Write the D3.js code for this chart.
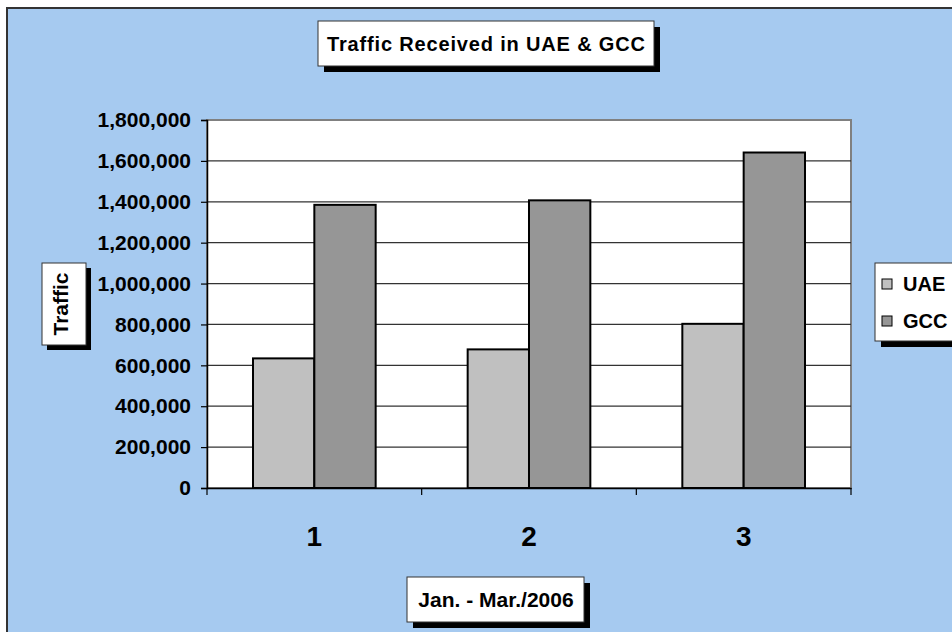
<!DOCTYPE html>
<html>
<head>
<meta charset="utf-8">
<script src="https://cdn.jsdelivr.net/npm/d3@7"></script>
<style>
  body { margin: 0; background: #fff; }
  svg { display: block; font-family: 'Liberation Sans', Arial, sans-serif; font-weight: bold; }
</style>
</head>
<body>
<div id="chart"></div>
<script>
// Chart data
const categories = ['1', '2', '3'];
const seriesNames = ['UAE', 'GCC'];
const uaeValues = [634000, 678000, 803000];
const gccValues = [1385000, 1407000, 1641000];
const yTicks = [0, 200000, 400000, 600000, 800000, 1000000, 1200000, 1400000, 1600000, 1800000];
const seriesColors = ['#c0c0c0', '#969696'];

const width = 952;
const height = 632;
const plot = { left: 207, right: 851, top: 120, bottom: 488 };

const svg = d3.select('#chart').append('svg')
  .attr('width', width)
  .attr('height', height);

// Outer chart area
svg.append('rect')
  .attr('x', 7).attr('y', 8)
  .attr('width', width + 10).attr('height', height + 10)
  .attr('fill', '#a6caf0')
  .attr('stroke', '#333')
  .attr('stroke-width', 2);

// Plot area
svg.append('rect')
  .attr('x', plot.left).attr('y', plot.top)
  .attr('width', plot.right - plot.left).attr('height', plot.bottom - plot.top)
  .attr('fill', '#fff')
  .attr('stroke', '#808080')
  .attr('stroke-width', 2);

const x0 = d3.scaleBand()
  .domain(categories)
  .range([plot.left, plot.right])
  .padding(0);

const x1 = d3.scaleBand()
  .domain(seriesNames)
  .range([0, x0.bandwidth()])
  .paddingInner(0)
  .paddingOuter(0.75);

const y = d3.scaleLinear()
  .domain([0, 1800000])
  .range([plot.bottom, plot.top]);

// Gridlines
svg.append('g')
  .selectAll('line')
  .data(yTicks.slice(1, -1))
  .join('line')
  .attr('x1', plot.left).attr('x2', plot.right)
  .attr('y1', d => y(d)).attr('y2', d => y(d))
  .attr('stroke', '#333')
  .attr('stroke-width', 1.2);

// Bars
const rows = categories.map((c, i) => ({ cat: c, values: [uaeValues[i], gccValues[i]] }));

svg.append('g')
  .selectAll('g')
  .data(rows)
  .join('g')
  .attr('transform', d => `translate(${x0(d.cat)},0)`)
  .selectAll('rect')
  .data(d => d.values.map((v, j) => ({ name: seriesNames[j], value: v, color: seriesColors[j] })))
  .join('rect')
  .attr('x', d => x1(d.name))
  .attr('y', d => y(d.value))
  .attr('width', x1.bandwidth())
  .attr('height', d => y(0) - y(d.value))
  .attr('fill', d => d.color)
  .attr('stroke', '#000')
  .attr('stroke-width', 2);

// Y axis
const yAxis = svg.append('g')
  .attr('transform', `translate(${plot.left},0)`)
  .call(d3.axisLeft(y).tickValues(yTicks).tickFormat(d3.format(',')).tickSize(6).tickPadding(10));

yAxis.select('.domain').attr('stroke', '#000').attr('stroke-width', 1.5);
yAxis.selectAll('.tick line').attr('stroke', '#000').attr('stroke-width', 1.2);
yAxis.selectAll('.tick text')
  .attr('font-size', 21)
  .attr('font-weight', 'bold')
  .attr('font-family', "'Liberation Sans', Arial, sans-serif")
  .attr('fill', '#000');

// X axis
const xAxis = svg.append('g')
  .attr('transform', `translate(0,${plot.bottom})`)
  .call(d3.axisBottom(x0).tickSize(0).tickPadding(38));

xAxis.select('.domain').attr('stroke', '#000').attr('stroke-width', 1.5);
xAxis.selectAll('.tick text')
  .attr('font-size', 28)
  .attr('font-weight', 'bold')
  .attr('font-family', "'Liberation Sans', Arial, sans-serif")
  .attr('fill', '#000');

// Category boundary tick marks
svg.append('g')
  .selectAll('line')
  .data(categories.concat(['end']))
  .join('line')
  .attr('x1', (d, i) => plot.left + i * x0.step())
  .attr('x2', (d, i) => plot.left + i * x0.step())
  .attr('y1', plot.bottom)
  .attr('y2', plot.bottom + 7)
  .attr('stroke', '#000')
  .attr('stroke-width', 1.2);

// Boxed labels with shadows
function labelBox(x, yTop, w, h, shadow) {
  const g = svg.append('g');
  g.append('rect')
    .attr('x', x + shadow).attr('y', yTop + shadow)
    .attr('width', w).attr('height', h)
    .attr('fill', '#000');
  g.append('rect')
    .attr('x', x).attr('y', yTop)
    .attr('width', w).attr('height', h)
    .attr('fill', '#fff')
    .attr('stroke', '#333')
    .attr('stroke-width', 1);
  return g;
}

// Title
labelBox(318, 21, 336, 45, 6)
  .append('text')
  .attr('x', 486).attr('y', 51)
  .attr('text-anchor', 'middle')
  .attr('font-size', 20)
  .attr('textLength', 318)
  .attr('lengthAdjust', 'spacing')
  .text('Traffic Received in UAE & GCC');

// Y axis title
labelBox(42, 263, 44, 82, 5)
  .append('text')
  .attr('transform', 'translate(68,304) rotate(-90)')
  .attr('text-anchor', 'middle')
  .attr('font-size', 21)
  .text('Traffic');

// X axis title
labelBox(407, 577, 177, 45, 6)
  .append('text')
  .attr('x', 496).attr('y', 607)
  .attr('text-anchor', 'middle')
  .attr('font-size', 21)
  .text('Jan. - Mar./2006');

// Legend
const legend = labelBox(875, 263, 100, 78, 6);
const legendY = d3.scalePoint().domain(seriesNames).range([284, 321]);

legend.selectAll('rect.swatch')
  .data(seriesNames)
  .join('rect')
  .attr('class', 'swatch')
  .attr('x', 882)
  .attr('y', d => legendY(d) - 5)
  .attr('width', 10).attr('height', 10)
  .attr('fill', (d, i) => seriesColors[i])
  .attr('stroke', '#000')
  .attr('stroke-width', 1);

legend.selectAll('text')
  .data(seriesNames)
  .join('text')
  .attr('x', 903)
  .attr('y', d => legendY(d) + 7)
  .attr('font-size', 20)
  .text(d => d);
</script>
</body>
</html>
